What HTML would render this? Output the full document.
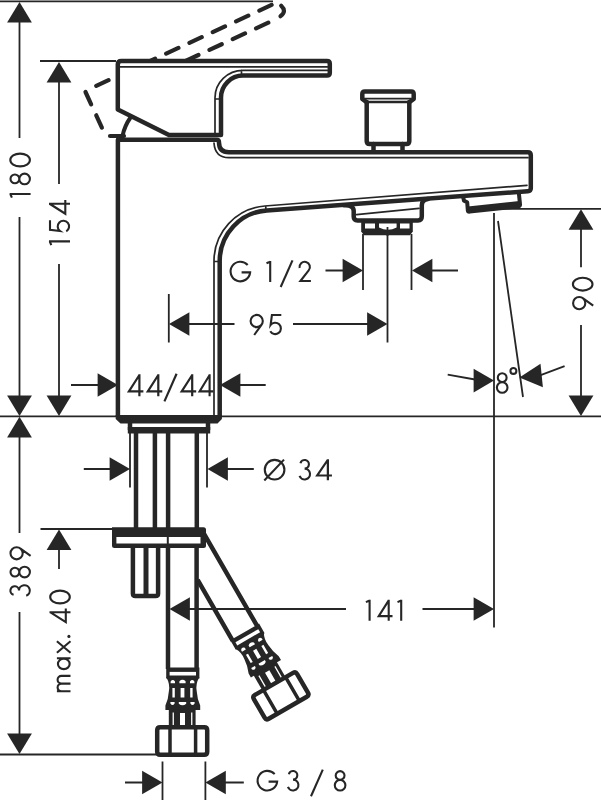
<!DOCTYPE html>
<html>
<head>
<meta charset="utf-8">
<title>Dimension drawing</title>
<style>
html,body{margin:0;padding:0;background:#fff;}
body{width:601px;height:800px;overflow:hidden;font-family:"Liberation Sans",sans-serif;}
svg{display:block;}
.d{stroke:#262626;stroke-width:1.8;fill:none;}
.a{fill:#262626;stroke:none;}
.k{stroke:#262626;stroke-width:4.5;fill:none;stroke-linejoin:round;stroke-linecap:round;}
.kw{stroke:#262626;stroke-width:4.5;fill:#fff;stroke-linejoin:round;stroke-linecap:round;}
.m{stroke:#262626;stroke-width:2.6;fill:none;stroke-linejoin:round;stroke-linecap:round;}
.t{stroke:#262626;stroke-width:1.7;fill:none;stroke-linecap:round;}
.dash{stroke:#262626;stroke-width:4.2;fill:none;stroke-dasharray:13.5 12.16;stroke-linecap:round;stroke-linejoin:round;}
text{font-family:"Liberation Sans",sans-serif;fill:#262626;font-size:28px;}
</style>
</head>
<body>
<svg width="601" height="800" viewBox="0 0 601 800">
<rect x="0" y="0" width="601" height="800" fill="#fff"/>

<!-- ===== dimension lines ===== -->
<g id="dims">
<path class="d" d="M0,1.3H273"/>
<path class="d" d="M19.5,20V138M19.5,217V398M19.5,435V533M19.5,612V736"/>
<path class="a" d="M19.5,2L31.9,22.6H7.1Z"/>
<path class="a" d="M19.5,416L31.9,395.4H7.1Z"/>
<path class="a" d="M19.5,416.8L31.9,437.4H7.1Z"/>
<path class="a" d="M19.5,754L31.9,733.4H7.1Z"/>
<path class="d" d="M0,754.5H156"/>
<path class="d" d="M40,61H116"/>
<path class="d" d="M59,80V184M59,264V398"/>
<path class="a" d="M59,62L71.4,82.6H46.6Z"/>
<path class="a" d="M59,416L71.4,395.4H46.6Z"/>
<path class="d" d="M0,416.4H118M220,416.4H601"/>
<!-- max 40 -->
<path class="d" d="M40.5,529H112M59,548V569"/>
<path class="a" d="M59,529.5L71.4,550.1H46.6Z"/>
<!-- 44/44 -->
<path class="d" d="M71,385H100M238,385H265.7"/>
<path class="a" d="M118,385L97.6,373.2V396.8Z"/>
<path class="a" d="M220,385L240.4,373.2V396.8Z"/>
<!-- 95 -->
<path class="d" d="M168.8,294V342.5M187,324H234.5M293,324H370M387.5,228V342.5"/>
<path class="a" d="M169,324L189.4,312.2V335.8Z"/>
<path class="a" d="M387.5,324L367.1,312.2V335.8Z"/>
<!-- G 1/2 -->
<path class="d" d="M363,234V290M411.5,234V290M325.5,270.5H345M430,270.5H458"/>
<path class="a" d="M363,270.5L342.6,258.7V282.3Z"/>
<path class="a" d="M412,270.5L432.4,258.7V282.3Z"/>
<!-- 90 -->
<path class="d" d="M500,208.8H601M581,226V267.300M581,325V398"/>
<path class="a" d="M581,209.2L593.4,229.8H568.6Z"/>
<path class="a" d="M581,416L593.4,395.4H568.6Z"/>
<!-- 8 deg -->
<path class="d" d="M494,213V627.5M498,221L523,397"/>
<path class="d" d="M447.7,374.6L475,379.5M564.6,366.1L540,375.300"/>
<path class="a" d="M494,380.6L473.6,368.8V392.4Z"/>
<path class="a" d="M519.4,377.6L540.5,363.7L542.9,387.2Z"/>
<!-- 141 -->
<path class="d" d="M187,609H346M422.5,609H476"/>
<path class="a" d="M169.5,609L189.9,597.2V620.8Z"/>
<path class="a" d="M494,609L473.6,597.2V620.8Z"/>
<!-- dia 34 -->
<path class="d" d="M130,432V487.5M207,432V487.5M83.8,469H112M225,469H253.8"/>
<path class="a" d="M130,469L109.6,457.2V480.8Z"/>
<path class="a" d="M207.5,469L227.9,457.2V480.8Z"/>
<!-- G 3/8 -->
<path class="d" d="M162.5,761.5V800M205.4,761.5V800M125,782.5H143M223,782.5H243.8"/>
<path class="a" d="M162.5,782.5L142.1,770.7V794.3Z"/>
<path class="a" d="M205.4,782.5L225.8,770.7V794.3Z"/>
</g>

<!-- ===== dashed raised handle ===== -->
<g id="dashed">
<path class="dash" d="M271.600,4.9L92,87.800"/>
<path class="dash" d="M85.5,92L103,130"/>
<path class="dash" d="M268.300,22.700L185,61.200"/>
<path class="k" style="stroke-width:4.2" d="M281.200,5.800C284.800,9.200 285.200,12.600 280.500,16.200"/>
</g>

<!-- ===== faucet body ===== -->
<g id="body">
<!-- handle -->
<path class="kw" d="M117.800,64.500Q117.800,61 121.300,61H327Q329.800,61 329.800,63.800V72.800Q329.800,75.600 327,75.600H243A22,22 0 0 0 221,97.600V135H169L117.800,109.5V64.500"/>
<path class="t" d="M119,66.9H327.500M327.500,70.400H243A28,27.400 0 0 0 215,97.8V134M241.500,70.400V75M215,99H220"/>
<!-- cartridge bits -->
<path class="k" style="stroke-width:4.2" d="M110,136H124"/>
<path class="m" style="stroke-width:4" d="M130.500,117.500Q124.500,126 122.500,136"/>
<!-- main body + spout outline -->
<path class="k" d="M117.900,416V139.800H216.5Q219,139.800 219,142.500Q219,152.3 229,152.3H527.8Q530.8,152.3 530.8,155.3V188.2Q530.8,191 527.8,191.200L266.800,210.400A50.700,50.700 0 0 0 219.700,261V416"/>
<path class="t" d="M214,143Q215,157.700 229,157.700H528M527,185.300L264.840,206A55.180,55.180 0 0 0 214,261V415M265.800,206V210M214,261.500H219"/>
<!-- bottom band -->
<path class="a" d="M115.700,415H221.900V419L217.500,423.500H120.500L115.700,419Z"/>
<!-- base ring -->
<path class="a" d="M127.800,427H210.200V433.500H127.800Z"/>
<path class="k" style="stroke-linecap:butt" d="M130,423V430M208,423V430"/>
</g>

<!-- ===== diverter knob ===== -->
<g id="knob">
<path class="k" d="M373.5,144V151M402.500,144V151"/>
<path class="k" d="M366.700,102V141Q366.700,144 369.700,144H406.300Q409.300,144 409.300,141V102"/>
<path class="k" d="M366.700,102.300L362.300,99V94Q362.300,91.500 364.800,91.500H411.200Q413.700,91.500 413.700,94V99L409.300,102.300"/>
<path class="t" style="stroke-width:2.600" d="M366,102H410"/>
<path class="t" style="stroke-width:1.900" d="M363,98.600H413"/>
</g>

<!-- ===== G1/2 outlet under spout ===== -->
<g id="outlet">
<path class="k" d="M344,205.300Q353.700,204.800 353.700,211V216.600Q353.700,220.400 357.500,220.400H418Q421.800,220.400 421.800,216.600V205.500Q421.800,199.800 428,199"/>
<path class="t" d="M356.500,214.700L419,208.300"/>
<path class="a" d="M361.2,221H412.8V231.5L410,235.3H364L361.2,231.5Z"/>
<path d="M365,223.6H375V228.6H365Z M400,223.6H409.5V228.6H400Z M379,223.6H396.6V227.5Q388,232 379,227.5Z" fill="#fff"/>
<path class="d" d="M387.5,227V236"/>
</g>

<!-- ===== aerator ===== -->
<g id="aerator">
<path class="k" style="stroke-width:4" d="M463,196.500L464,200.800L467.200,202.300L467.800,210.200Q468,211.800 469.800,211.600L518.300,206.300Q520.200,206.100 520,204.300L518.800,192.500"/>
<path class="k" style="stroke-width:4;stroke-linecap:butt" d="M468,208.500L519.500,203.100"/>
</g>

<!-- ===== shank, plate, stud ===== -->
<g id="shank">
<path class="k" d="M136,432V528M154.900,432V528M168.100,432V528M196.800,432V528" style="stroke-linecap:butt"/>
<path class="a" d="M112,527.300H203.500Q206,527.300 206,529.800V545.500Q206,548 203.500,548H114.500Q112,548 112,545.500Z"/>
<path d="M116.400,537H166.800V543.400H116.400Z M168.800,537H200.500V543.400H168.800Z" fill="#fff"/>
<path class="k" d="M132.900,548V593.500Q132.900,596 135.400,596H155.600Q158.100,596 158.100,593.500V548"/>
<path class="k" style="stroke-width:5;stroke-linecap:butt" d="M146,548V595"/>
</g>

<!-- ===== hoses ===== -->
<g id="hoses">
<path class="k" d="M168,548V669M196.600,548V669" style="stroke-linecap:butt"/>
<g id="fit">
<path class="a" d="M166.200,667.500H199.400V678.500H166.200Z"/>
<path fill="#fff" d="M169.600,671.900H196V675.500H169.600Z"/>
<path class="a" d="M166.200,677Q170.200,684 168.900,691Q168.400,699 165.400,705.500V710H200.200V705.500Q197.200,699 196.700,691Q195.400,684 199.400,677Z"/>
<path fill="#fff" d="M170.600,683.300V681.400Q172.800,678.800 175,681.400V683.300Z M179.400,683.300V681.200Q182.500,678.400 185.600,681.200V683.300Z M190,683.300V681.400Q192.200,678.800 194.400,681.400V683.300Z"/>
<path fill="#fff" d="M172.400,688H174.800V697.500H172.400Z M180.600,688H184.400V697.500H180.600Z M190.200,688H192.600V697.500H190.200Z"/>
<path fill="#fff" d="M170.400,702V703.600Q172.500,706.600 174.600,703.600V702Z M178.800,702V703.800Q182.500,706.800 186.200,703.800V702Z M190.400,702V703.600Q192.500,706.600 194.600,703.600V702Z"/>
<path class="a" d="M168.800,709H195.600V726H168.800Z"/>
<path fill="#fff" d="M180,713H185V726H180Z M172.600,712.500H173.900V726H172.600Z M191.100,712.500H192.400V726H191.100Z"/>
<path class="kw" d="M160.200,727.200H204.200Q207.200,727.200 207.200,730.200V751.700Q207.200,754.700 204.200,754.700H160.200Q157.200,754.700 157.200,751.700V730.200Q157.200,727.200 160.200,727.200Z"/>
<path class="k" style="stroke-width:3.500;stroke-linecap:butt" d="M170,728V754M195.600,728V754"/>
</g>
<!-- angled hose -->
<g transform="translate(245.6,633.7) rotate(-30) translate(-182.7,-669.5)">
<path class="k" d="M168,599V669M196.600,562V669" style="stroke-linecap:butt"/>
<use href="#fit"/>
</g>
<path class="k" d="M206,531L258,628" style="display:none"/>
</g>

<!-- ===== labels ===== -->
<g id="labels" style="fill:none;stroke:#262626;stroke-width:2.1;stroke-linejoin:miter;stroke-miterlimit:6">
<path transform="translate(229.60,282.00)" d="M18.08,-17.06A9.8,9.8 0 1 0 20.55,-9.6H12"/>
<path transform="translate(266.00,282.00)" d="M0.5,-18.7L4.2,-20.3M4.2,-21V0"/>
<path transform="translate(279.90,282.00)" d="M0.8,5L12.6,-21.6"/>
<path transform="translate(298.50,282.00)" d="M1.1,-14.0A5.2,5.2 0 1 1 10.18,-11.66L1.9,-1H12.4"/>
<path transform="translate(249.60,335.00)" d="M7.1,-20.1A6.1,6.1 0 1 1 7.1,-7.9A6.1,6.1 0 1 1 7.1,-20.1ZM12.06,-10.46L4.6,0"/>
<path transform="translate(268.60,335.00)" d="M12.7,-20H3.3L2.0,-10.0A5.7,5.7 0 1 1 1.66,-3.75"/>
<path transform="translate(127.01,396.20) scale(1.05,1.04)" d="M15.6,-4.7H1.8L11.8,-20.4M11.8,-21V0"/>
<path transform="translate(145.91,396.20) scale(1.05,1.04)" d="M15.6,-4.7H1.8L11.8,-20.4M11.8,-21V0"/>
<path transform="translate(163.60,396.20) scale(1.03,1.04)" d="M0.8,5L12.6,-21.6"/>
<path transform="translate(179.81,396.20) scale(1.05,1.04)" d="M15.6,-4.7H1.8L11.8,-20.4M11.8,-21V0"/>
<path transform="translate(197.80,396.20) scale(1.0,1.04)" d="M15.6,-4.7H1.8L11.8,-20.4M11.8,-21V0"/>
<path transform="translate(495.70,393.40)" d="M6.5,-20.1A4.4,4.4 0 1 1 6.5,-11.3A4.4,4.4 0 1 1 6.5,-20.1ZM6.5,-11.3A5.3,5.3 0 1 1 6.5,-0.7A5.3,5.3 0 1 1 6.5,-11.3Z"/>
<path transform="translate(509.50,393.40)" d="M3.9,-25.45A2.95,2.95 0 1 1 3.9,-19.55A2.95,2.95 0 1 1 3.9,-25.45Z"/>
<path transform="translate(263.80,480.20)" d="M10.8,-20.3A9.8,9.8 0 1 1 10.8,-0.7A9.8,9.8 0 1 1 10.8,-20.3ZM20.2,-20.6L0.5,0.3"/>
<path transform="translate(298.60,480.20)" d="M1.85,-17.0A4.3,4.3 0 1 1 6.0,-11.6A5.4,5.4 0 1 1 0.93,-4.35"/>
<path transform="translate(315.25,480.20) scale(1.07,1)" d="M15.6,-4.7H1.8L11.8,-20.4M11.8,-21V0"/>
<path transform="translate(365.40,620.80)" d="M0.5,-18.7L4.2,-20.3M4.2,-21V0"/>
<path transform="translate(376.90,620.80)" d="M15.6,-4.7H1.8L11.8,-20.4M11.8,-21V0"/>
<path transform="translate(397.00,620.80)" d="M0.5,-18.7L4.2,-20.3M4.2,-21V0"/>
<path transform="translate(256.60,791.20)" d="M18.08,-17.06A9.8,9.8 0 1 0 20.55,-9.6H12"/>
<path transform="translate(287.00,791.20)" d="M1.85,-17.0A4.3,4.3 0 1 1 6.0,-11.6A5.4,5.4 0 1 1 0.93,-4.35"/>
<path transform="translate(310.20,791.20)" d="M0.8,5L12.6,-21.6"/>
<path transform="translate(333.60,791.20)" d="M6.5,-20.1A4.4,4.4 0 1 1 6.5,-11.3A4.4,4.4 0 1 1 6.5,-20.1ZM6.5,-11.3A5.3,5.3 0 1 1 6.5,-0.7A5.3,5.3 0 1 1 6.5,-11.3Z"/>
<path transform="translate(30.60,198.20) rotate(-90)" d="M0.5,-18.7L4.2,-20.3M4.2,-21V0"/>
<path transform="translate(30.60,185.40) rotate(-90)" d="M6.5,-20.1A4.4,4.4 0 1 1 6.5,-11.3A4.4,4.4 0 1 1 6.5,-20.1ZM6.5,-11.3A5.3,5.3 0 1 1 6.5,-0.7A5.3,5.3 0 1 1 6.5,-11.3Z"/>
<path transform="translate(30.60,167.40) rotate(-90)" d="M7.4,-20.3A6.4,9.8 0 1 1 7.4,-0.7A6.4,9.8 0 1 1 7.4,-20.3Z"/>
<path transform="translate(70.00,245.60) rotate(-90)" d="M0.5,-18.7L4.2,-20.3M4.2,-21V0"/>
<path transform="translate(70.00,233.05) rotate(-90)" d="M12.7,-20H3.3L2.0,-10.0A5.7,5.7 0 1 1 1.66,-3.75"/>
<path transform="translate(70.00,215.55) rotate(-90)" d="M15.6,-4.7H1.8L11.8,-20.4M11.8,-21V0"/>
<path transform="translate(30.60,596.60) rotate(-90)" d="M1.85,-17.0A4.3,4.3 0 1 1 6.0,-11.6A5.4,5.4 0 1 1 0.93,-4.35"/>
<path transform="translate(30.60,578.60) rotate(-90)" d="M6.5,-20.1A4.4,4.4 0 1 1 6.5,-11.3A4.4,4.4 0 1 1 6.5,-20.1ZM6.5,-11.3A5.3,5.3 0 1 1 6.5,-0.7A5.3,5.3 0 1 1 6.5,-11.3Z"/>
<path transform="translate(30.60,560.40) rotate(-90)" d="M7.1,-20.1A6.1,6.1 0 1 1 7.1,-7.9A6.1,6.1 0 1 1 7.1,-20.1ZM12.06,-10.46L4.6,0"/>
<path transform="translate(593.20,310.25) rotate(-90)" d="M7.1,-20.1A6.1,6.1 0 1 1 7.1,-7.9A6.1,6.1 0 1 1 7.1,-20.1ZM12.06,-10.46L4.6,0"/>
<path transform="translate(593.20,291.60) rotate(-90)" d="M7.4,-20.3A6.4,9.8 0 1 1 7.4,-0.7A6.4,9.8 0 1 1 7.4,-20.3Z"/>
<path transform="translate(70.50,692.25) rotate(-90)" d="M0.95,0V-13.6M0.95,-9.05A3.85,3.85 0 0 1 8.65,-9.05V0M8.65,-9.05A3.85,3.85 0 0 1 16.35,-9.05V0"/>
<path transform="translate(70.50,670.10) rotate(-90)" d="M6.2,-12.55A5.25,5.85 0 1 1 6.2,-0.85A5.25,5.85 0 1 1 6.2,-12.55ZM11.85,-13.6V0"/>
<path transform="translate(70.50,653.60) rotate(-90)" d="M0.8,0L12.3,-13.6M0.8,-13.6L12.3,0"/>
<path transform="translate(70.50,624.00) rotate(-90)" d="M15.6,-4.7H1.8L11.8,-20.4M11.8,-21V0"/>
<path transform="translate(70.50,604.40) rotate(-90)" d="M7.4,-20.3A6.4,9.8 0 1 1 7.4,-0.7A6.4,9.8 0 1 1 7.4,-20.3Z"/>
<circle cx="68.9" cy="636.4" r="1.55" style="fill:#262626;stroke:none"/>
</g>

</svg>
</body>
</html>
